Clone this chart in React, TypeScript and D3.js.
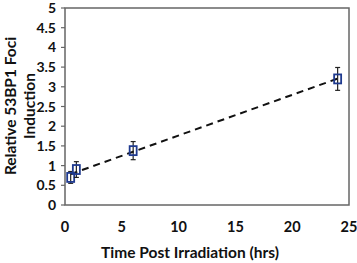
import React from "react";
import * as d3 from "d3";

const times = [0.5, 1, 6, 24];
const foci = [0.7, 0.9, 1.38, 3.2];
const errors = [0.15, 0.2, 0.23, 0.29];
const yTicks = [0, 0.5, 1, 1.5, 2, 2.5, 3, 3.5, 4, 4.5, 5];
const xTicks = [0, 5, 10, 15, 20, 25];

const W = 357, H = 263;
const left = 65, right = 349, top = 8, bottom = 205;

export default function App() {
  const x = d3.scaleLinear().domain([0, 25]).range([left, right]);
  const y = d3.scaleLinear().domain([0, 5]).range([bottom, top]);

  const mx = d3.mean(times)!, my = d3.mean(foci)!;
  const sxy = d3.sum(times.map((t, i) => (t - mx) * (foci[i] - my)));
  const sxx = d3.sum(times.map((t) => (t - mx) ** 2));
  const slope = sxy / sxx, icpt = my - slope * mx;
  const x0 = times[0], x1 = times[times.length - 1];
  const line = d3.line<number>().x((t) => x(t)).y((t) => y(icpt + slope * t));

  const font = "Lato, 'Open Sans', sans-serif";
  return (
    <svg width={W} height={H} style={{ position: "absolute", left: 0, top: 0, background: "#fff" }}>
      <rect x={left} y={top} width={right - left} height={bottom - top} fill="none" stroke="#666" strokeWidth={1.5} />
      {yTicks.map((v) => (
        <g key={v}>
          <line x1={left - 4} x2={left} y1={y(v)} y2={y(v)} stroke="#666" strokeWidth={1.2} />
          <text x={left - 9} y={y(v)} dy="0.36em" textAnchor="end" fontFamily={font} fontWeight={700} fontSize={14} fill="#111">{v}</text>
        </g>
      ))}
      {xTicks.map((v) => (
        <text key={v} x={x(v)} y={232} textAnchor="middle" fontFamily={font} fontWeight={700} fontSize={14.5} fill="#111">{v}</text>
      ))}
      <path d={line([x0, x1])!} fill="none" stroke="#111" strokeWidth={2} strokeDasharray="7,5" />
      {times.map((t, i) => (
        <g key={t}>
          <line x1={x(t)} x2={x(t)} y1={y(foci[i] + errors[i])} y2={y(foci[i] - errors[i])} stroke="#222" strokeWidth={1.2} />
          <line x1={x(t) - 2.5} x2={x(t) + 2.5} y1={y(foci[i] + errors[i])} y2={y(foci[i] + errors[i])} stroke="#222" strokeWidth={1.2} />
          <line x1={x(t) - 2.5} x2={x(t) + 2.5} y1={y(foci[i] - errors[i])} y2={y(foci[i] - errors[i])} stroke="#222" strokeWidth={1.2} />
          <rect x={x(t) - 3.5} y={y(foci[i]) - 4.5} width={7} height={9} fill="none" stroke="#1f3a8f" strokeWidth={1.8} />
        </g>
      ))}
      <text x={190} y={258} textAnchor="middle" fontFamily={font} fontWeight={700} fontSize={15.5} fill="#111">Time Post Irradiation (hrs)</text>
      <text transform={`translate(16,106) rotate(-90)`} textAnchor="middle" fontFamily={font} fontWeight={700} fontSize={15.5} fill="#111">
        <tspan x={0} y={0}>Relative 53BP1 Foci</tspan>
        <tspan x={0} y={19}>Induction</tspan>
      </text>
    </svg>
  );
}
